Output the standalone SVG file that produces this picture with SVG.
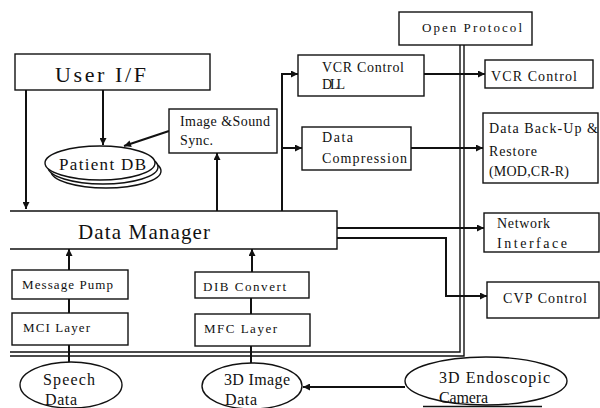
<svg xmlns="http://www.w3.org/2000/svg" width="600" height="408" viewBox="0 0 600 408">
<style>
.box{fill:#fff;stroke:#111;stroke-width:1.4}
.ln{fill:none;stroke:#111;stroke-width:2}
.t{font-family:"Liberation Serif","DejaVu Serif",serif;fill:#111}
.s13{font-size:13px}
.s14{font-size:14px}
.s16{font-size:16px}
.s17{font-size:17px}
.s21{font-size:21px}
.s22{font-size:22px}
</style>
<defs>
<marker id="ah" viewBox="0 0 10 10" refX="10" refY="5" markerWidth="8" markerHeight="7" markerUnits="userSpaceOnUse" orient="auto">
<path d="M0,0 L10,5 L0,10 z" fill="#111"/>
</marker>
</defs>
<rect width="600" height="408" fill="#fff"/>

<g id="connectors">
<path class="ln" d="M26,90 V209" marker-end="url(#ah)"/>
<path class="ln" d="M103,90 V145" marker-end="url(#ah)"/>
<path class="ln" d="M169,131 L124,146" marker-end="url(#ah)"/>
<path class="ln" d="M217,211 V153" marker-end="url(#ah)"/>
<path class="ln" d="M282,211 V74 H298" marker-end="url(#ah)"/>
<path class="ln" d="M282,148 H302" marker-end="url(#ah)"/>
<path class="ln" d="M424,74 H485" marker-end="url(#ah)"/>
<path class="ln" d="M411,148 H483" marker-end="url(#ah)"/>
<path class="ln" d="M337,228 H484" stroke-width="3" marker-end="url(#ah)"/>
<path class="ln" d="M337,238 H446 V296 H487" marker-end="url(#ah)"/>
<path class="ln" d="M69,270 V249" marker-end="url(#ah)"/>
<path class="ln" d="M252,272 V249" marker-end="url(#ah)"/>
<path class="ln" d="M69,299 V313"/>
<path class="ln" d="M251,298 V314"/>
<path class="ln" d="M69,345 V362"/>
<path class="ln" d="M251,346 V363"/>
<path class="ln" d="M405,387 H303" marker-end="url(#ah)"/>
<path fill="none" stroke="#111" stroke-width="1.4" d="M460,45 V352 H10 M464,45 V356 H10"/>
<path fill="none" stroke="#111" stroke-width="1.4" d="M423,406.5 H542"/>
</g>

<g id="user-if">
<rect class="box" x="15" y="54" width="195" height="36"/>
<text class="t s22" x="55" y="82" textLength="91" lengthAdjust="spacing">User I/F</text>
</g>

<g id="patient-db">
<ellipse cx="106" cy="171" rx="55" ry="17" fill="#fff" stroke="#111" stroke-width="1.4"/>
<ellipse cx="103" cy="167" rx="55" ry="17" fill="#fff" stroke="#111" stroke-width="1.4"/>
<ellipse cx="100" cy="163" rx="55" ry="17" fill="#fff" stroke="#111" stroke-width="1.4"/>
<text class="t s17" x="59" y="170" textLength="87" lengthAdjust="spacing">Patient DB</text>
</g>

<g id="image-sound-sync">
<rect class="box" x="169" y="109" width="108" height="44"/>
<text class="t s14" x="180" y="126" textLength="90" lengthAdjust="spacing">Image &amp;Sound</text>
<text class="t s14" x="180" y="145" textLength="33" lengthAdjust="spacing">Sync.</text>
</g>

<g id="data-manager">
<path fill="#fff" stroke="#111" stroke-width="1.4" d="M10,211 H337 V249 H10"/>
<text class="t s21" x="78" y="239" textLength="132" lengthAdjust="spacing">Data Manager</text>
</g>

<g id="open-protocol">
<rect class="box" x="399" y="12" width="133" height="33"/>
<text class="t s13" x="422" y="32" textLength="100" lengthAdjust="spacing">Open Protocol</text>
</g>

<g id="vcr-dll">
<rect class="box" x="298" y="55" width="126" height="41"/>
<text class="t s14" x="322" y="72" textLength="82" lengthAdjust="spacing">VCR Control</text>
<text class="t s14" x="322" y="89" textLength="23" lengthAdjust="spacing">DLL</text>
</g>

<g id="data-compression">
<rect class="box" x="302" y="127" width="109" height="43"/>
<text class="t s14" x="322" y="142" textLength="31" lengthAdjust="spacing">Data</text>
<text class="t s14" x="322" y="163" textLength="85" lengthAdjust="spacing">Compression</text>
</g>

<g id="vcr-control">
<rect class="box" x="485" y="60" width="108" height="28"/>
<text class="t s14" x="491" y="81" textLength="86" lengthAdjust="spacing">VCR Control</text>
</g>

<g id="data-backup">
<rect class="box" x="483" y="113" width="115" height="70"/>
<text class="t s14" x="489" y="133" textLength="109" lengthAdjust="spacing">Data Back-Up &amp;</text>
<text class="t s14" x="489" y="156" textLength="48" lengthAdjust="spacing">Restore</text>
<text class="t s14" x="489" y="176" textLength="80" lengthAdjust="spacing">(MOD,CR-R)</text>
</g>

<g id="network-interface">
<rect class="box" x="484" y="213" width="115" height="39"/>
<text class="t s14" x="497" y="228" textLength="53" lengthAdjust="spacing">Network</text>
<text class="t s14" x="497" y="248" textLength="70" lengthAdjust="spacing">Interface</text>
</g>

<g id="cvp-control">
<rect class="box" x="487" y="282" width="112" height="36"/>
<text class="t s14" x="503" y="303" textLength="84" lengthAdjust="spacing">CVP Control</text>
</g>

<g id="message-pump">
<rect class="box" x="12" y="270" width="116" height="29"/>
<text class="t s13" x="22" y="289" textLength="91" lengthAdjust="spacing">Message Pump</text>
</g>

<g id="mci-layer">
<rect class="box" x="12" y="313" width="116" height="32"/>
<text class="t s13" x="23" y="332" textLength="67" lengthAdjust="spacing">MCI Layer</text>
</g>

<g id="dib-convert">
<rect class="box" x="195" y="272" width="114" height="26"/>
<text class="t s13" x="203" y="291" textLength="83" lengthAdjust="spacing">DIB Convert</text>
</g>

<g id="mfc-layer">
<rect class="box" x="195" y="314" width="115" height="32"/>
<text class="t s13" x="204" y="333" textLength="73" lengthAdjust="spacing">MFC Layer</text>
</g>

<g id="speech-data">
<ellipse cx="71" cy="385" rx="51" ry="23" fill="#fff" stroke="#111" stroke-width="1.4"/>
<text class="t s16" x="43" y="385" textLength="52" lengthAdjust="spacing">Speech</text>
<text class="t s16" x="45" y="405" textLength="32" lengthAdjust="spacing">Data</text>
</g>

<g id="image-data">
<ellipse cx="252" cy="386" rx="50" ry="23" fill="#fff" stroke="#111" stroke-width="1.4"/>
<text class="t s16" x="224" y="385" textLength="66" lengthAdjust="spacing">3D Image</text>
<text class="t s16" x="225" y="405" textLength="32" lengthAdjust="spacing">Data</text>
</g>

<g id="endoscopic-camera">
<ellipse cx="486" cy="381" rx="81" ry="24" fill="#fff" stroke="#111" stroke-width="1.4"/>
<text class="t s16" x="439" y="383" textLength="111" lengthAdjust="spacing">3D Endoscopic</text>
<text class="t s16" x="439" y="403" textLength="49" lengthAdjust="spacing">Camera</text>
</g>
</svg>
